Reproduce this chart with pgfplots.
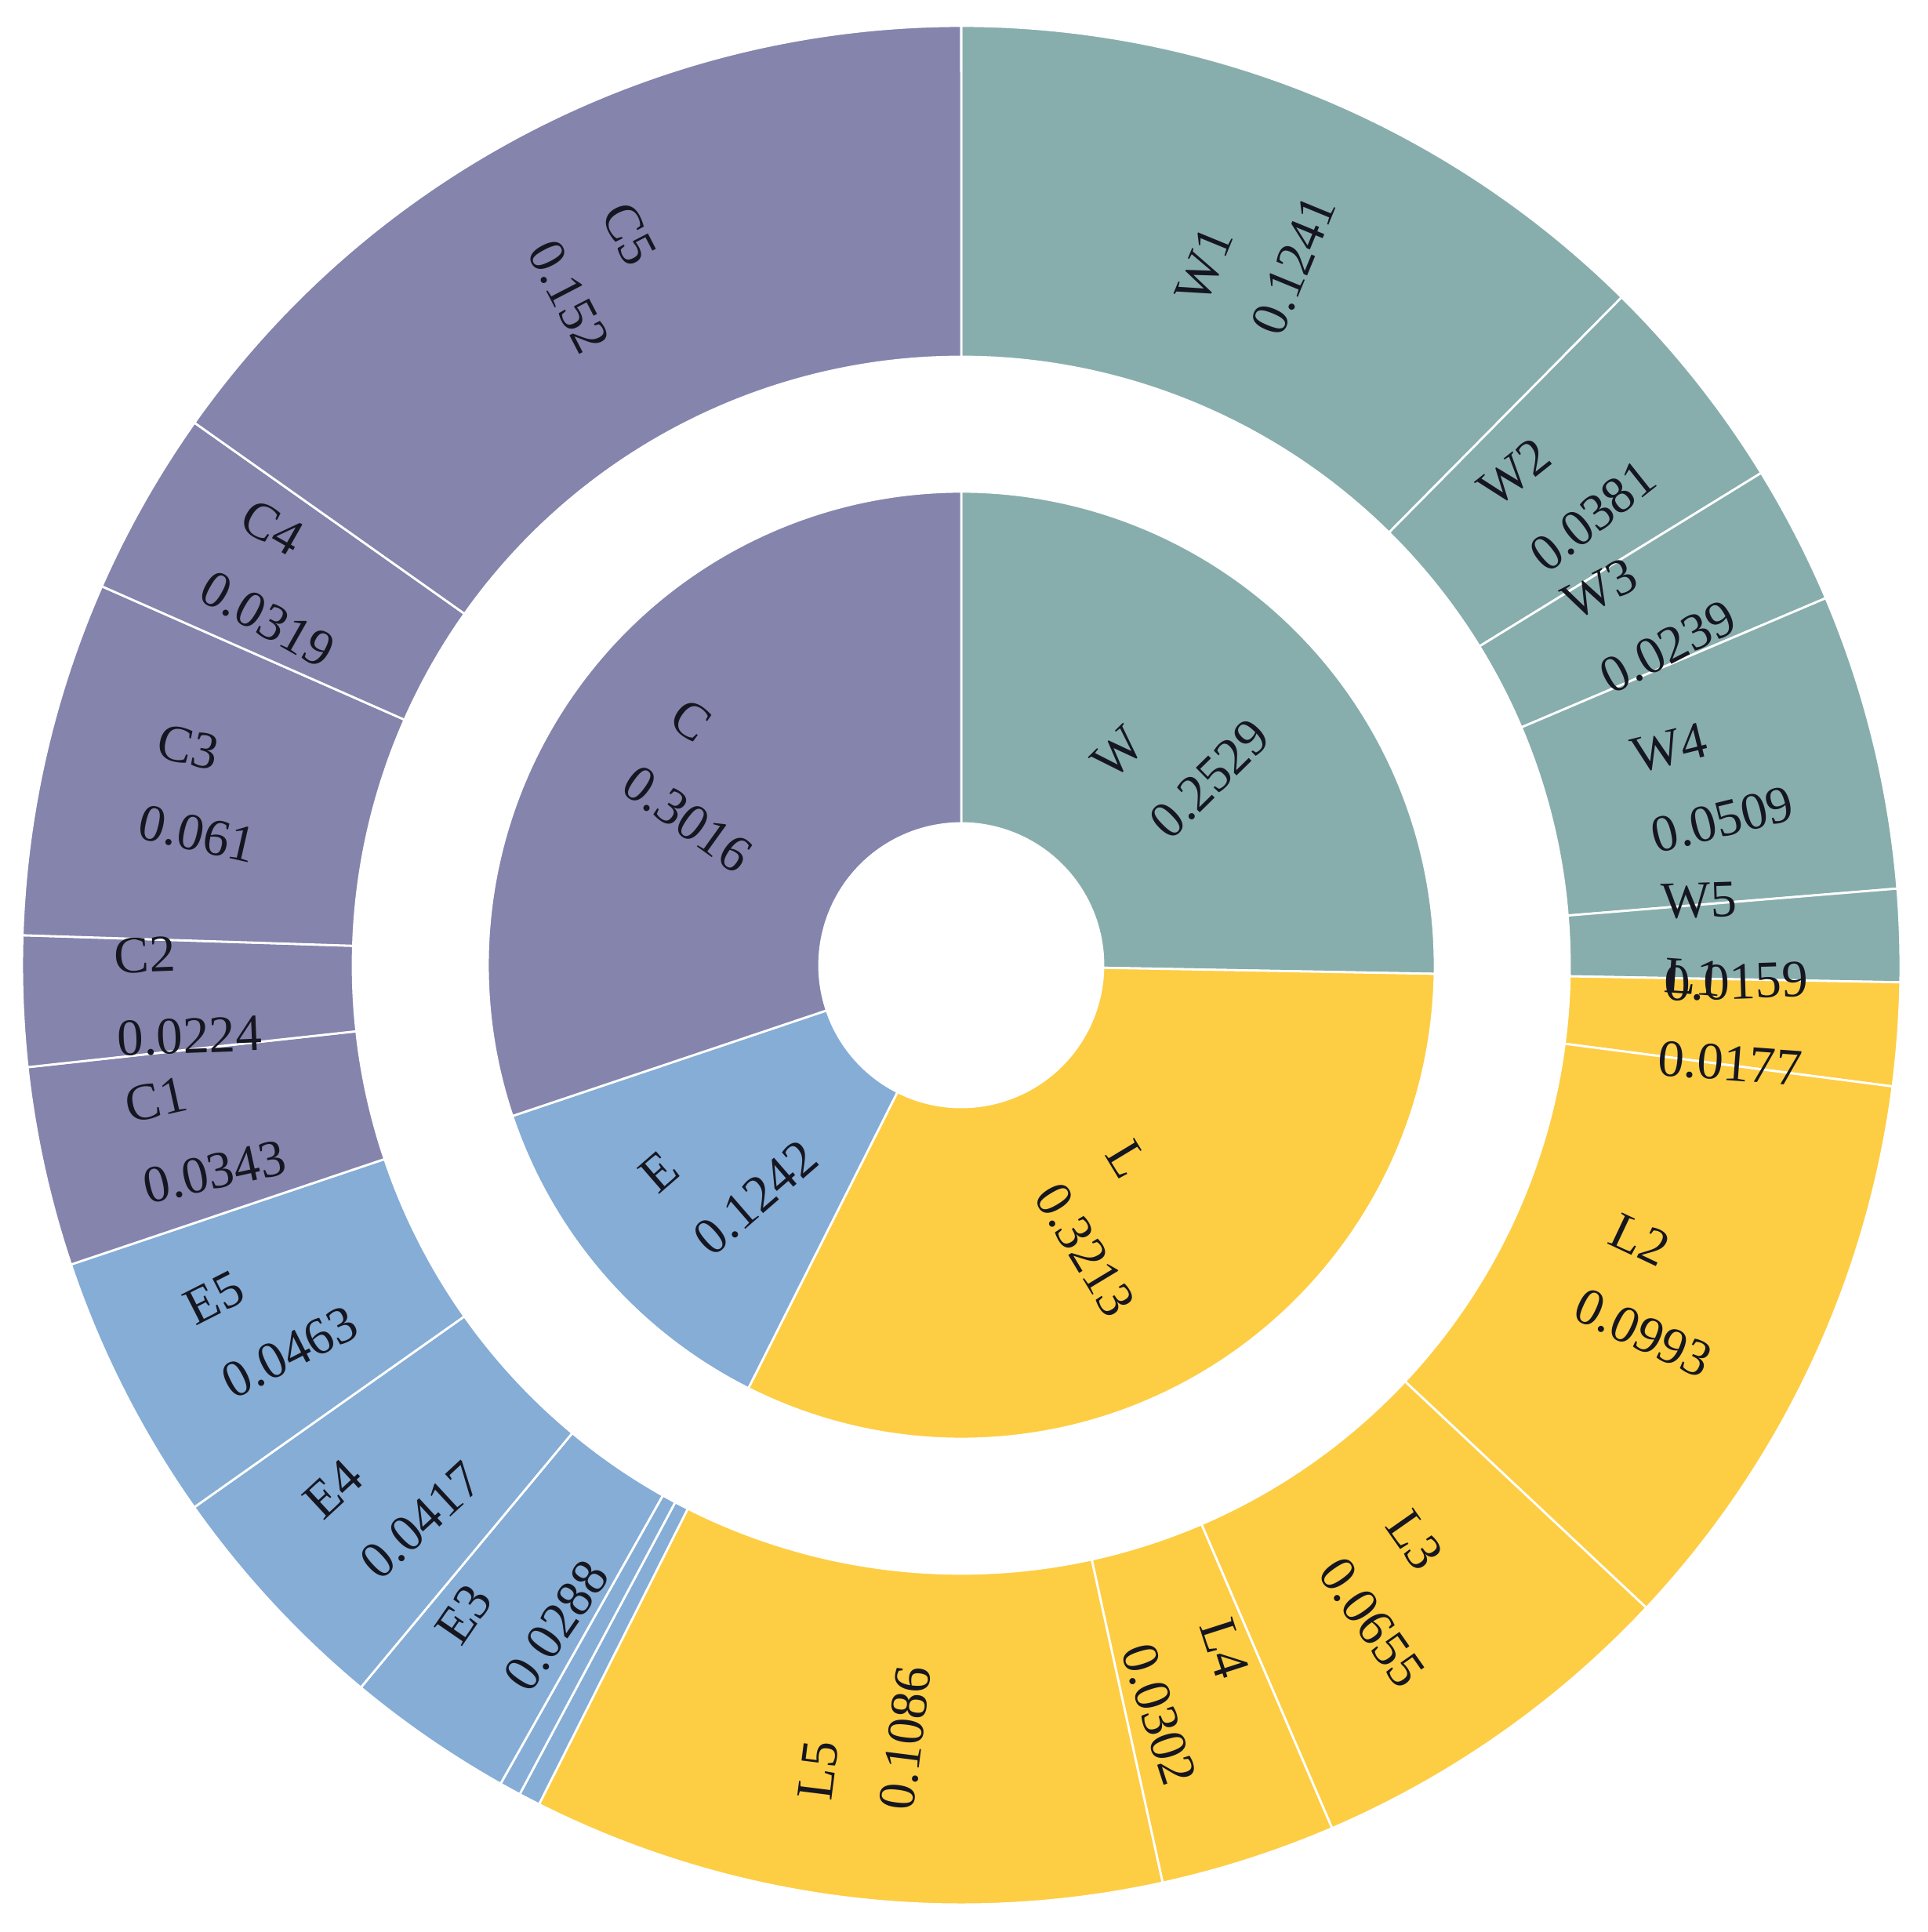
\documentclass[border=0pt]{standalone}
\usepackage{pgfplots}
\pgfplotsset{compat=1.18}
\usepackage{fontspec}
\setmainfont{Liberation Serif}
\definecolor{cW}{RGB}{135,174,173}
\definecolor{cL}{RGB}{253,205,68}
\definecolor{cE}{RGB}{133,173,214}
\definecolor{cC}{RGB}{132,132,173}
\definecolor{txt}{RGB}{22,22,32}
% #1 mode (0 = sectors, 1 = labels), #2 inner radius, #3 outer radius,
% #4 macro holding the list name/value/colour/showlabel (clockwise from 12 o'clock)
\newcommand\ring[4]{%
  \gdef\cum{0}%
  \foreach \nm/\vl/\col/\lab in #4{%
    \pgfmathsetmacro\sa{90-360*\cum}%
    \pgfmathsetmacro\sb{90-360*(\cum+\vl)}%
    \pgfmathsetmacro\mid{(\sa+\sb)/2}%
    \pgfmathsetmacro\rot{\mid<-90 ? \mid+180 : \mid}%
    \pgfmathsetmacro\rmid{(#2+#3)/2}%
    \ifnum#1=0
      \fill[\col, draw=white, line width=0.8pt] (\sa:#2cm) -- (\sa:#3cm)
        arc[start angle=\sa, end angle=\sb, radius=#3cm] -- (\sb:#2cm)
        arc[start angle=\sb, end angle=\sa, radius=#2cm] -- cycle;
    \else
      \ifnum\lab=1
        \node[rotate=\rot, align=left, text=txt, inner sep=0pt,
          font={\fontsize{19pt}{30pt}\selectfont}] at (\mid:\rmid cm) {\nm\\\vl};
      \fi
    \fi
    \pgfmathsetmacro\nc{\cum+\vl}\xdef\cum{\nc}%
  }%
}
\def\innerdata{W/0.2529/cW/1, L/0.3213/cL/1, E/0.1242/cE/1, C/0.3016/cC/1}
\def\outerdata{W1/0.1241/cW/1, W2/0.0381/cW/1, W3/0.0239/cW/1, W4/0.0509/cW/1, W5/0.0159/cW/1,
      L1/0.0177/cL/1, L2/0.0993/cL/1, L3/0.0655/cL/1, L4/0.0302/cL/1, L5/0.1086/cL/1,
      E1/0.0037/cE/0, E2/0.0037/cE/0, E3/0.0288/cE/1, E4/0.0417/cE/1, E5/0.0463/cE/1,
      C1/0.0343/cC/1, C2/0.0224/cC/1, C3/0.061/cC/1, C4/0.0319/cC/1, C5/0.152/cC/1}
\begin{document}
\begin{tikzpicture}
\begin{axis}[hide axis, x=1cm, y=1cm,
  xmin=-12.26, xmax=12.32, ymin=-12.33, ymax=12.31, clip=false]
\pgfplotsextra{
  \path (axis cs:-12.26,-12.33) rectangle (axis cs:12.32,12.31);
  \begin{scope}[shift={(axis cs:0,0)}]
    \ring{0}{1.81}{6.04}{\innerdata}
    \ring{0}{7.76}{11.98}{\outerdata}
    \ring{1}{1.81}{6.04}{\innerdata}
    \ring{1}{7.76}{11.98}{\outerdata}
  \end{scope}
}
\end{axis}
\end{tikzpicture}
\end{document}
